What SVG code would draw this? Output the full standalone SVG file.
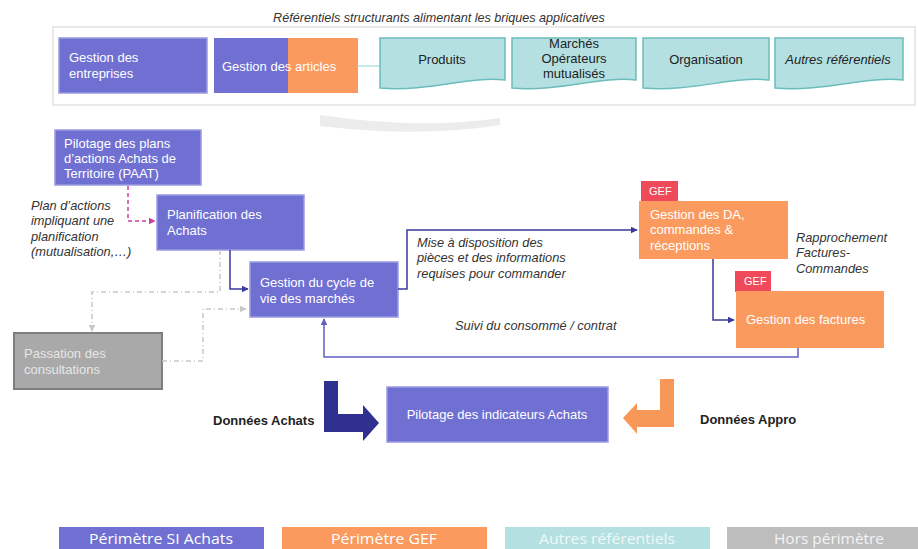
<svg xmlns="http://www.w3.org/2000/svg" width="918" height="549" viewBox="0 0 918 549">
<defs>
<style>
text{font-family:"Liberation Sans",Arial,sans-serif;}
.t{font-size:13px;fill:#ffffff;}
.k{font-size:13px;fill:#222;}
.i{font-size:12.8px;font-style:italic;fill:#333;}
.b{font-size:13px;font-weight:bold;fill:#222;}
.p{fill:#7070d2;stroke:#9a9ae0;stroke-width:1.5;}
.o{fill:#fa9a5e;}
.gef{fill:#f04a5a;}
.tl{fill:#b5e0e2;stroke:#6bbcbc;stroke-width:1.5;}
.g{fill:#a9a9a9;stroke:#7f7f7f;stroke-width:2;}
.nv{fill:none;stroke:#3a3a9a;stroke-width:1.5;}
.lg{font-family:"Open Sans","Liberation Sans",sans-serif;font-size:14.5px;fill:#fff;}
</style>
<marker id="an" viewBox="0 0 10 10" refX="9" refY="5" markerWidth="7" markerHeight="7" orient="auto" markerUnits="userSpaceOnUse"><path d="M0,0 L10,5 L0,10 Z" fill="#3a3a9a"/></marker>
<marker id="ap" viewBox="0 0 10 10" refX="9" refY="5" markerWidth="7" markerHeight="7" orient="auto" markerUnits="userSpaceOnUse"><path d="M0,0 L10,5 L0,10 Z" fill="#6060c0"/></marker>
<marker id="ak" viewBox="0 0 10 10" refX="9" refY="5" markerWidth="7" markerHeight="7" orient="auto" markerUnits="userSpaceOnUse"><path d="M0,0 L10,5 L0,10 Z" fill="#cc3fa0"/></marker>
<marker id="ag" viewBox="0 0 10 10" refX="9" refY="5" markerWidth="7" markerHeight="7" orient="auto" markerUnits="userSpaceOnUse"><path d="M0,0 L10,5 L0,10 Z" fill="#c8c8c8"/></marker>
</defs>
<rect width="918" height="549" fill="#ffffff"/>

<text x="439" y="22" text-anchor="middle" font-size="12.6" font-style="italic" fill="#333">Référentiels structurants alimentant les briques applicatives</text>
<rect x="53" y="27" width="862" height="78" fill="#fff" stroke="#e2e2e2" stroke-width="1.5"/>

<g id="gestion-entreprises">
<rect class="p" x="59" y="38" width="148" height="55"/>
<text class="t" x="69" y="62">Gestion des</text>
<text class="t" x="69" y="78">entreprises</text>
</g>
<g id="gestion-articles">
<rect x="214" y="38" width="75" height="55" fill="#7070d2"/>
<rect class="o" x="288" y="38" width="70" height="55"/>
<text class="t" x="222" y="71">Gestion des articles</text>
</g>
<line x1="358" y1="66" x2="380" y2="66" stroke="#b5e0e2" stroke-width="1.5"/>
<g id="produits">
<path class="tl" d="M380,38 H505 V80 C468,76 430,92 380,88 Z"/>
<text class="k" x="442" y="64" text-anchor="middle">Produits</text>
</g>
<g id="marches">
<path class="tl" d="M512,38 H636 V80 C599,76 561,92 512,88 Z"/>
<text class="k" x="574" y="48" text-anchor="middle">Marchés</text>
<text class="k" x="574" y="63" text-anchor="middle">Opérateurs</text>
<text class="k" x="574" y="78" text-anchor="middle">mutualisés</text>
</g>
<g id="organisation">
<path class="tl" d="M643,38 H769 V80 C731,76 693,92 643,88 Z"/>
<text class="k" x="706" y="64" text-anchor="middle">Organisation</text>
</g>
<g id="autres">
<path class="tl" d="M775,38 H903 V80 C865,76 826,92 775,88 Z"/>
<text class="k" x="838" y="64" text-anchor="middle" font-style="italic">Autres référentiels</text>
</g>

<path d="M320,115 Q420,130 500,118 L500,125 Q420,138 320,126 Z" fill="#ececec"/>

<g id="paat">
<rect class="p" x="55" y="130" width="146" height="55"/>
<text class="t" x="64" y="148">Pilotage des plans</text>
<text class="t" x="64" y="163">d’actions Achats de</text>
<text class="t" x="64" y="178">Territoire (PAAT)</text>
</g>
<g id="planification">
<rect class="p" x="157" y="195" width="147" height="55"/>
<text class="t" x="167" y="219">Planification des</text>
<text class="t" x="167" y="235">Achats</text>
</g>
<g id="cycle">
<rect class="p" x="250" y="262" width="148" height="55"/>
<text class="t" x="260" y="287">Gestion du cycle de</text>
<text class="t" x="260" y="303">vie des marchés</text>
</g>
<g id="passation">
<rect class="g" x="14" y="333" width="148" height="56"/>
<text class="t" x="24" y="358" style="fill:#e6e6e6">Passation des</text>
<text class="t" x="24" y="374" style="fill:#e6e6e6">consultations</text>
</g>
<g id="indicateurs">
<rect class="p" x="387" y="387" width="221" height="55"/>
<text class="t" x="497" y="419" text-anchor="middle">Pilotage des indicateurs Achats</text>
</g>
<g id="gestion-da">
<rect class="gef" x="641" y="181" width="37" height="21"/>
<text x="649" y="195" font-size="11" fill="#fff">GEF</text>
<rect class="o" x="639" y="201" width="149" height="58"/>
<text class="t" x="650" y="219">Gestion des DA,</text>
<text class="t" x="650" y="234">commandes &amp;</text>
<text class="t" x="650" y="250">réceptions</text>
</g>
<g id="gestion-factures">
<rect class="gef" x="735" y="271" width="36" height="21"/>
<text x="744" y="285" font-size="11" fill="#fff">GEF</text>
<rect class="o" x="736" y="291" width="148" height="57"/>
<text class="t" x="746" y="324">Gestion des factures</text>
</g>

<g id="labels">
<text class="i" x="31" y="210">Plan d’actions</text>
<text class="i" x="31" y="225">impliquant une</text>
<text class="i" x="31" y="241">planification</text>
<text class="i" x="31" y="256">(mutualisation,…)</text>
<text class="i" x="417" y="247">Mise à disposition des</text>
<text class="i" x="417" y="262">pièces et des informations</text>
<text class="i" x="417" y="278">requises pour commander</text>
<text class="i" x="796" y="242">Rapprochement</text>
<text class="i" x="796" y="257">Factures-</text>
<text class="i" x="796" y="273">Commandes</text>
<text class="i" x="455" y="330">Suivi du consommé / contrat</text>
<text class="b" x="213" y="425">Données Achats</text>
<text class="b" x="700" y="424">Données Appro</text>
</g>

<g id="connectors">
<path d="M128,186 V221 H155" fill="none" stroke="#cc3fa0" stroke-width="1.5" stroke-dasharray="4,3" marker-end="url(#ak)"/>
<path class="nv" d="M230,250 V289 H248" marker-end="url(#an)"/>
<path class="nv" d="M398,289 H407 V230 H637" marker-end="url(#an)"/>
<path class="nv" d="M713,259 V320 H734" marker-end="url(#an)"/>
<path d="M798,348 V357 H324 V319" fill="none" stroke="#6060c0" stroke-width="1.5" marker-end="url(#ap)"/>
<path d="M220,250 V292 H92 V331" fill="none" stroke="#c8c8c8" stroke-width="1.5" stroke-dasharray="5,3,1,3" marker-end="url(#ag)"/>
<path d="M162,361 H203 V309 H246" fill="none" stroke="#c8c8c8" stroke-width="1.5" stroke-dasharray="5,3,1,3" marker-end="url(#ag)"/>
<path d="M324,381 H338 V414 H363 V405 L379,423 L363,441 V432 H324 Z" fill="#303090"/>
<path d="M660,379 H674 V427 H637 V434 L623,418 L637,403 V410 H660 Z" fill="#f89858"/>
</g>

<g id="legend">
<rect x="59" y="527" width="205" height="24" fill="#7070d2"/>
<text class="lg" x="161" y="544" text-anchor="middle" textLength="144" lengthAdjust="spacingAndGlyphs">Périmètre SI Achats</text>
<rect x="282" y="527" width="205" height="24" fill="#fa9a5e"/>
<text class="lg" x="384" y="544" text-anchor="middle" textLength="106" lengthAdjust="spacingAndGlyphs">Périmètre GEF</text>
<rect x="505" y="527" width="205" height="24" fill="#b5e0e2"/>
<text class="lg" x="607" y="544" text-anchor="middle" textLength="136" lengthAdjust="spacingAndGlyphs" style="fill:#eef8f8">Autres référentiels</text>
<rect x="727" y="527" width="191" height="24" fill="#bdbdbd"/>
<text class="lg" x="829" y="544" text-anchor="middle" textLength="110" lengthAdjust="spacingAndGlyphs" style="fill:#f4f4f4">Hors périmètre</text>
</g>
</svg>
